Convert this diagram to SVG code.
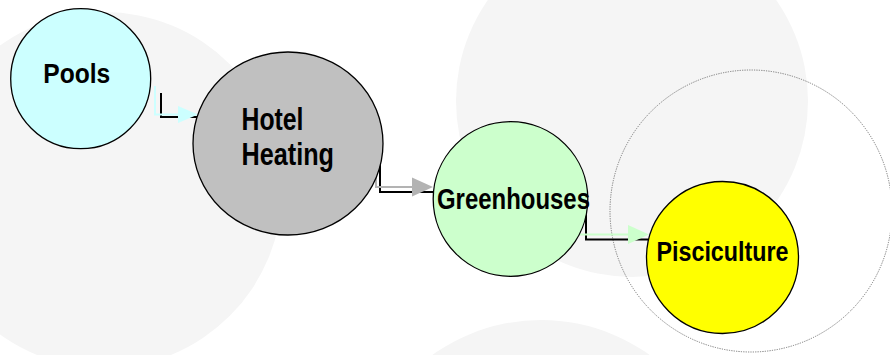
<svg xmlns="http://www.w3.org/2000/svg" width="890" height="355" viewBox="0 0 890 355">
<style>
.bg{fill:#f5f5f5;stroke:none}
.node{stroke:#000;stroke-width:1.3}
.lbl{font-family:"Liberation Sans",Arial,sans-serif;font-weight:bold;fill:#000}
.shadow{fill:none;stroke:#000;stroke-width:2}
.cl{fill:none;stroke-width:2}
</style>
<rect width="890" height="355" fill="#fff"/>
<g id="background">
<circle class="bg" cx="104" cy="190" r="178"/>
<circle class="bg" cx="632" cy="101" r="176"/>
<circle class="bg" cx="541" cy="506" r="186"/>
<circle cx="751" cy="211" r="141" fill="none" stroke="#777" stroke-width="1" stroke-dasharray="1.2,1.2"/>
</g>
<g id="connectors">
<path class="shadow" d="M161,93 V117 H197"/>
<path class="cl" stroke="#ccffff" d="M155,86 V114.5 H180"/>
<polygon fill="#ccffff" points="178,106 198,114.5 178,123"/>
<path class="shadow" d="M380,165 V192 H434"/>
<path class="cl" stroke="#b3b3b3" d="M376,176 V187 H414"/>
<polygon fill="#b3b3b3" points="412,177.5 433,187 412,196.5"/>
<path class="shadow" d="M586,205 V239.5 H648"/>
<path class="cl" stroke="#ccffcc" d="M578,234.5 H630"/>
<polygon fill="#ccffcc" points="628,225 649,234.5 628,244"/>
</g>
<g id="pools">
<circle class="node" cx="80.7" cy="78.7" r="70" fill="#ccffff"/>
<text class="lbl" x="43.3" y="83.3" font-size="28" textLength="67" lengthAdjust="spacingAndGlyphs">Pools</text>
</g>
<g id="hotel-heating">
<ellipse class="node" cx="288" cy="143.5" rx="95" ry="91.5" fill="#c0c0c0"/>
<text class="lbl" x="241.5" y="130" font-size="31" textLength="62" lengthAdjust="spacingAndGlyphs">Hotel</text>
<text class="lbl" x="241.5" y="165" font-size="31" textLength="92.5" lengthAdjust="spacingAndGlyphs">Heating</text>
</g>
<g id="greenhouses">
<circle class="node" cx="510.5" cy="199" r="77.3" fill="#ccffcc"/>
<text class="lbl" x="437" y="209" font-size="29" textLength="153" lengthAdjust="spacingAndGlyphs">Greenhouses</text>
</g>
<g id="pisciculture">
<circle class="node" cx="722.5" cy="257.5" r="76" fill="#ffff00"/>
<text class="lbl" x="656.5" y="261" font-size="27" textLength="132" lengthAdjust="spacingAndGlyphs">Pisciculture</text>
</g>
</svg>
